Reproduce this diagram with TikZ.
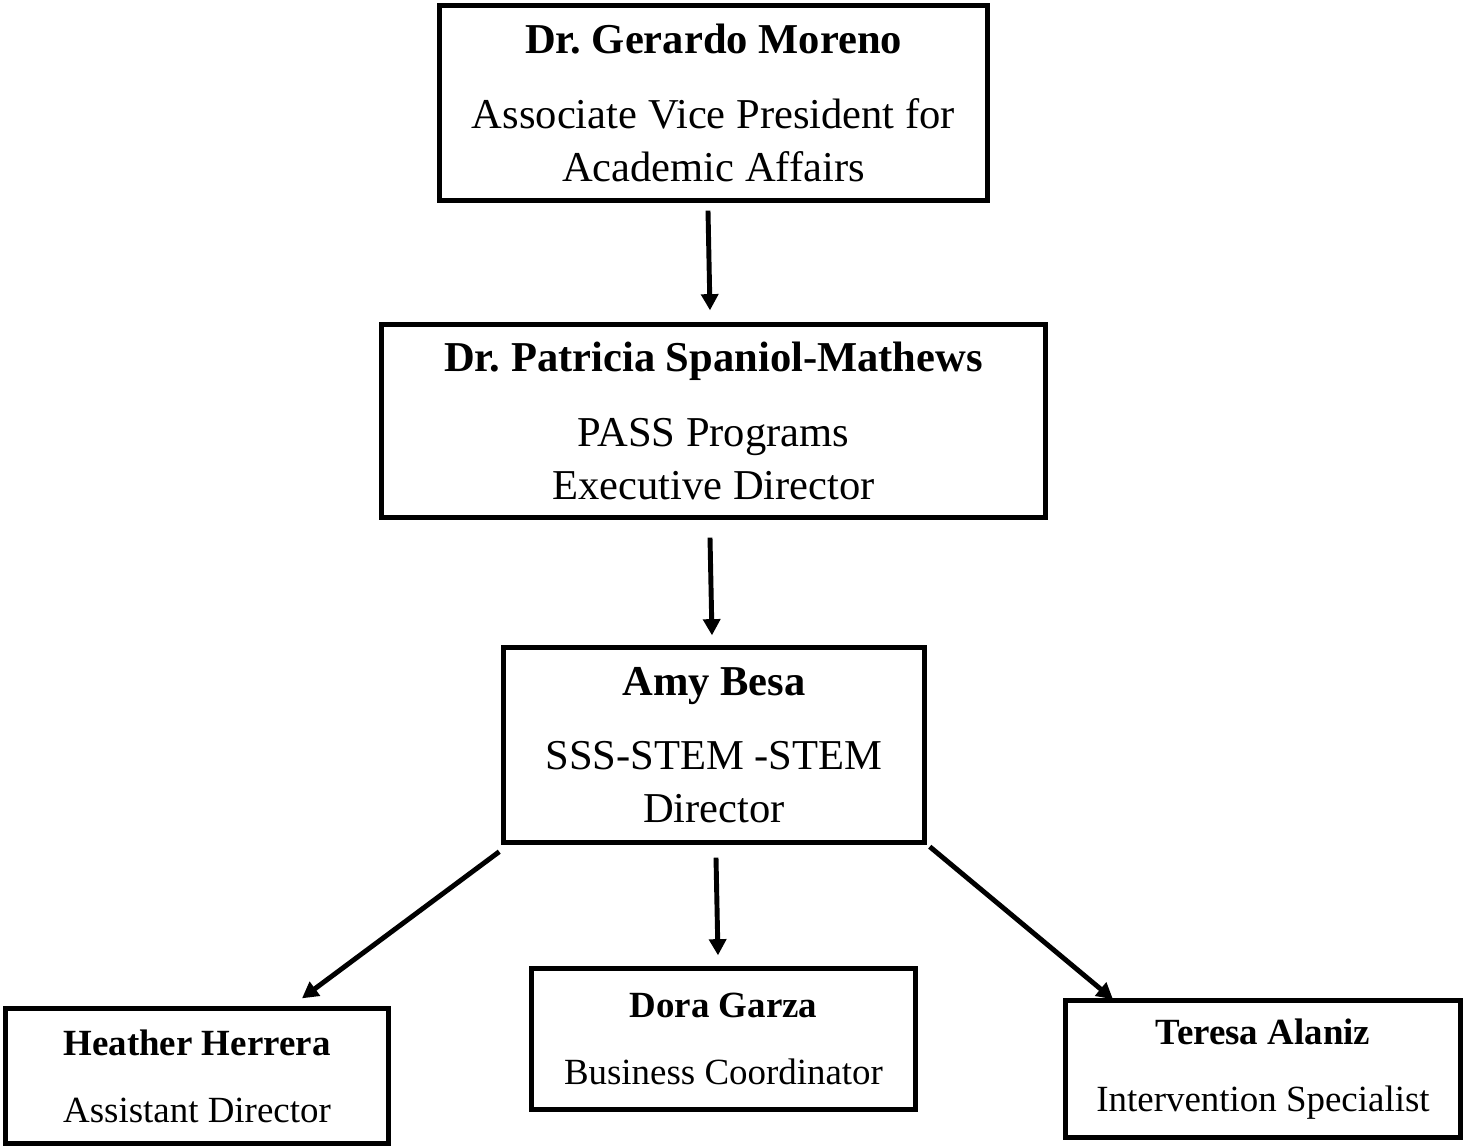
\documentclass[tikz,border=0pt]{standalone}
\usepackage{fontspec}
\setmainfont{Liberation Serif}
\usetikzlibrary{positioning, arrows.meta}
\frenchspacing

\begin{document}
\begin{tikzpicture}[x=0.01cm, y=-0.01cm,
    bigbox/.style={draw, line width=1.5pt, align=center, inner sep=0pt,
      font=\fontsize{12.1pt}{15.1pt}\selectfont},
    smallbox/.style={draw, line width=1.5pt, align=center, inner sep=0pt,
      font=\fontsize{10.5pt}{13pt}\selectfont},
    link/.style={line width=1.4pt, -{Triangle[length=4.6pt, width=4.8pt]}}]
  \useasboundingbox (0,0) rectangle (1466,1148);

  % Boxes
  \node[bigbox, minimum width=5.48cm, minimum height=1.95cm] (gm) at (713.5,103)
    {\textbf{Dr. Gerardo Moreno}\\[6pt] Associate Vice President for\\ Academic Affairs};
  \node[bigbox, minimum width=6.64cm, minimum height=1.93cm] (psm) at (713.5,421)
    {\textbf{Dr. Patricia Spaniol-Mathews}\\[6pt] PASS Programs\\ Executive Director};
  \node[bigbox, minimum width=4.21cm, minimum height=1.95cm] (ab) at (714,745)
    {\textbf{Amy Besa}\\[6pt] SSS-STEM -STEM\\ Director};
  \node[smallbox, minimum width=3.83cm, minimum height=1.35cm] (hh) at (197,1076)
    {\textbf{Heather Herrera}\\[6pt] Assistant Director};
  \node[smallbox, minimum width=3.84cm, minimum height=1.41cm] (dg) at (723.5,1039)
    {\textbf{Dora Garza}\\[6pt] Business Coordinator};
  \node[smallbox, minimum width=3.95cm, minimum height=1.37cm] (ta) at (1263,1069)
    {\textbf{Teresa Alaniz}\\[6pt] Intervention Specialist};

  % Reporting lines
  \draw[link] ([shift={(-5.5,7.5)}]gm.south) -- ([shift={(-3.5,-11.5)}]psm.north);
  \draw[link] ([shift={(-3.5,17.5)}]psm.south) -- ([shift={(-2,-9.5)}]ab.north);
  \draw[link] ([shift={(2,12.5)}]ab.south) -- ([shift={(-5.5,-10.5)}]dg.north);
  \draw[link] ([shift={(-1.5,6.5)}]ab.south west) -- ([shift={(105,-7.5)}]hh.north);
  \draw[link] ([shift={(2.5,1.5)}]ab.south east) -- ([shift={(-150,1.5)}]ta.north);
\end{tikzpicture}
\end{document}
